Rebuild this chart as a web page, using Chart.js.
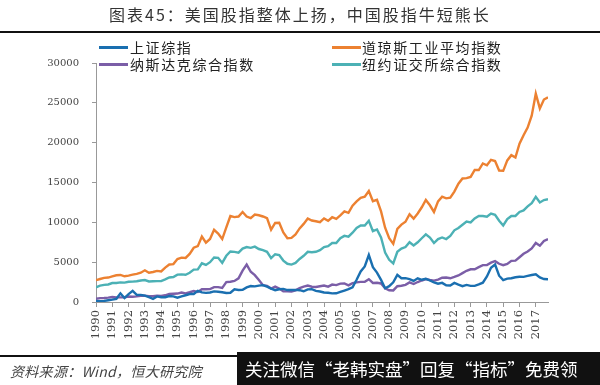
<!DOCTYPE html>
<html><head><meta charset="utf-8">
<script src="https://cdn.jsdelivr.net/npm/chart.js@4"></script>
<style>
html,body{margin:0;padding:0;background:#fff;}
#wrap{position:relative;width:600px;height:385px;overflow:hidden;background:#fff;}
#c{position:absolute;left:0;top:0;}
#title{position:absolute;left:0;top:4px;width:600px;text-align:center;font-family:'Noto Sans CJK SC';font-size:16px;font-weight:400;letter-spacing:2px;color:#333;line-height:20px;}
#rule{position:absolute;left:0;top:31px;width:600px;height:2px;background:#111;}
.lg{position:absolute;font-family:'Noto Sans CJK SC';font-size:14px;font-weight:400;letter-spacing:1.6px;color:#222;line-height:18px;white-space:nowrap;}
.sw{position:absolute;height:3px;width:29px;}
#foot1{position:absolute;left:0;top:355px;width:240px;height:2px;background:#111;}
#src{position:absolute;left:10px;top:361px;font-family:'Noto Sans CJK SC';font-size:14px;font-style:italic;color:#444;letter-spacing:0.3px;line-height:20px;}
#box{position:absolute;left:237px;top:352px;width:363px;height:33px;background:#111;}
#boxt{position:absolute;left:245px;top:357px;font-family:'Noto Sans CJK SC';font-size:17.5px;color:#fff;line-height:24px;white-space:nowrap;}
</style>
</head><body>
<div id="wrap">
<canvas id="c" width="600" height="385"></canvas>
<div id="title">图表45：美国股指整体上扬，中国股指牛短熊长</div>
<div id="rule"></div>
<div class="sw" style="left:99px;top:46px;background:#1a6fb0"></div>
<div class="lg" style="left:130px;top:38px">上证综指</div>
<div class="sw" style="left:332px;top:46px;background:#ec8131"></div>
<div class="lg" style="left:362px;top:38px">道琼斯工业平均指数</div>
<div class="sw" style="left:99px;top:63px;background:#7b5ea7"></div>
<div class="lg" style="left:130px;top:55px">纳斯达克综合指数</div>
<div class="sw" style="left:332px;top:63px;background:#4cb1b5"></div>
<div class="lg" style="left:362px;top:55px">纽约证交所综合指数</div>
<div id="foot1"></div>
<div id="src">资料来源：Wind，恒大研究院</div>
<div id="box"></div>
<div id="boxt">关注微信“老韩实盘”回复“指标”免费领</div>
</div>
<script>
// Tick labels (years) on the x axis
const years = ['1990','1991','1992','1993','1994','1995','1996','1997','1998','1999','2000','2001','2002','2003','2004','2005','2006','2007','2008','2009','2010','2011','2012','2013','2014','2015','2016','2017'];
// Series names
const seriesNames = ['上证综指','道琼斯工业平均指数','纳斯达克综合指数','纽约证交所综合指数'];
// Quarterly readings (4 per year label, starting at 1990)
const sse = [
 129,116,137,218, 300,400,1090,500, 1000,1400,900,900, 800,600,400,700,
 600,600,750,700, 540,700,850,1000, 1000,1400,1200,1150, 1200,1330,1280,1220,
 1130,1160,1600,1500, 1530,1830,2000,1960, 2060,2120,1920,1690, 1490,1600,1650,1500,
 1500,1520,1480,1350, 1590,1600,1390,1320, 1190,1160,1080,1090, 1260,1440,1610,1840,
 2790,3840,4470,5900, 4380,3690,2780,1730, 1990,2480,3410,2990, 2990,2870,2640,2980,
 2790,2910,2700,2470, 2290,2400,2100,2070, 2390,2180,1990,2140, 2030,2030,2200,2420,
 3200,4300,4700,3300, 2740,2940,2980,3100, 3160,3150,3270,3390, 3480,3080,2880,2850];
const dow = [
 2736,2888,3025,3069, 3223,3359,3394,3226, 3310,3428,3540,3681, 3978,3682,3765,3908,
 3844,4321,4709,4756, 5395,5569,5529,6029, 6813,7009,8223,7443, 7907,9064,8600,7900,
 9359,10789,10655,10730, 11300,10734,10522,10971, 10887,10735,10523,9075, 9920,9946,8737,8000,
 8054,8480,9234,9801, 10488,10226,10140,10027, 10490,10193,10641,10440, 10865,11367,11186,12081,
 12622,13063,13212,13930, 12650,12820,11378,9325, 8000,7300,9172,9713, 10067,11009,10466,11118,
 11892,12811,12143,11300, 12633,13214,13009,13096, 13861,14840,15500,15546, 15699,16581,16563,17391,
 17165,17841,17690,16500, 16466,17774,18432,18142, 19864,20941,21891,23377, 26149,24300,25415,25700];
const nasdaq = [
 414,486,502,542, 620,579,580,605, 696,661,705,779, 800,733,722,777,
 755,843,1001,1036, 1059,1190,1081,1222, 1379,1260,1594,1594, 1619,1868,1872,1771,
 2505,2542,2638,2966, 3940,4700,3800,3370, 2773,2116,2027,1690, 1934,1688,1328,1330,
 1321,1464,1735,1932, 2066,1920,1887,1975, 2062,1922,2185,2120, 2306,2323,2091,2367,
 2464,2525,2546,2859, 2390,2413,2326,1721, 1476,1450,1979,2045, 2147,2461,2255,2507,
 2700,2874,2756,2684, 2814,3046,3067,2977, 3142,3329,3626,3920, 4104,4115,4370,4631,
 4635,4941,5128,4800, 4614,4775,5162,5189, 5615,6048,6348,6728, 7411,7066,7672,7900];
const nyse = [
 1850,2050,2150,2200, 2380,2390,2460,2430, 2540,2560,2600,2700, 2750,2580,2600,2620,
 2620,2840,3080,3130, 3430,3470,3420,3670, 4070,4100,4860,4650, 5000,5590,5550,4900,
 5800,6340,6290,6200, 6700,6900,6800,6950, 6650,6500,6300,5500, 6000,5900,5200,4800,
 4700,4900,5400,5800, 6300,6250,6300,6500, 6900,7000,7400,7400, 8000,8300,8200,8700,
 9300,9600,9600,10200, 8900,9100,8100,6200, 5300,4850,6300,6700, 6900,7500,7100,7500,
 8000,8500,8100,7400, 7900,8100,7900,8300, 9000,9300,9700,10100, 10000,10500,10800,10800,
 10700,11100,10950,10200, 9600,10400,10800,10800, 11300,11500,12000,12400, 13200,12500,12800,12900];
const yTicks = [0,5000,10000,15000,20000,25000,30000];

const startYear = Number(years[0]);
const toPts = arr => arr.map((v,i)=>({x:startYear + i/4, y:v}));
const colors = ['#1a6fb0','#ec8131','#7b5ea7','#4cb1b5'];
const series = [sse, dow, nasdaq, nyse];

new Chart(document.getElementById('c'), {
  type:'line',
  data:{datasets: series.map((s,k)=>({
    label: seriesNames[k], data: toPts(s), borderColor: colors[k], backgroundColor: colors[k],
    borderWidth: 2.4, pointRadius: 0, tension: 0, fill:false
  }))},
  options:{
    responsive:false, animation:false,
    layout:{padding:{left:0,right:52,top:63,bottom:38}},
    plugins:{legend:{display:false}, tooltip:{enabled:false}, title:{display:false}},
    scales:{
      x:{type:'linear', min:startYear, max:startYear + (sse.length-1)/4,
        afterBuildTicks: s => { s.ticks = years.map(v=>({value:Number(v)})); },
        afterFit: s => { s.height = 45; },
        grid:{drawOnChartArea:false, drawTicks:true, tickLength:5, color:'#999'},
        border:{display:true, color:'#999', width:1},
        ticks:{autoSkip:false, maxRotation:90, minRotation:90, padding:3, color:'#444',
          font:{family:'DejaVu Serif', size:11.5}, callback: v => String(v)}
      },
      y:{min:0, max:30000,
        afterBuildTicks: s => { s.ticks = yTicks.map(v=>({value:v})); },
        afterFit: s => { s.width = 96; },
        grid:{drawOnChartArea:false, drawTicks:true, tickLength:4, color:'#999'},
        border:{display:true, color:'#999', width:1},
        ticks:{padding:13, color:'#444', font:{family:'DejaVu Serif', size:10}, callback: v => String(v)}
      }
    }
  }
});
</script>
</body></html>
